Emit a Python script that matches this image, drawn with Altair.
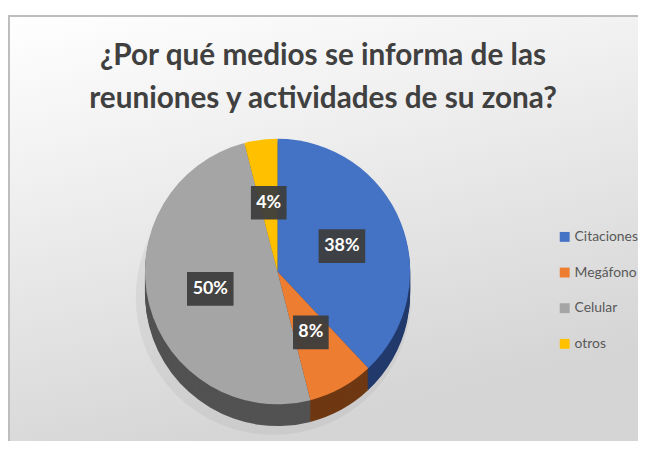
import altair as alt
import pandas as pd

# ---- data ----
categories = ["Citaciones", "Megáfono", "Celular", "otros"]
values = [38, 8, 50, 4]
labels = ["38%", "8%", "50%", "4%"]
title_lines = ["¿Por qué medios se informa de las", "reuniones y actividades de su zona?"]

# ---- styles ----
top_colors = ["#4472C4", "#ED7D31", "#A5A5A5", "#FFC000"]
side_colors = ["#22396B", "#6E3812", "#525252", "#8C6A00"]
W, H = 636, 430
CX, CY, R, DEPTH, LR = 272, 259, 134, 22, 70
TFONT = "Lato, sans-serif"

df = pd.DataFrame({"cat": categories, "value": values, "label": labels,
                   "order": list(range(len(categories)))})
base = alt.Chart(df)

layers = []
frame = alt.Chart(pd.DataFrame({"k": [0]}))

# background gradient
bg = alt.LinearGradient(gradient="linear",
                        stops=[alt.GradientStop(color="#ffffff", offset=0),
                               alt.GradientStop(color="#d5d5d5", offset=1)],
                        x1=0, y1=0, x2=0.35, y2=1)
layers.append(frame.mark_rect(color=bg).encode(
    x=alt.value(0), x2=alt.value(W), y=alt.value(0), y2=alt.value(H)))

# page frame borders (top and left)
layers.append(frame.mark_rule(color="#bdbdbd", strokeWidth=2).encode(
    x=alt.value(0), x2=alt.value(W), y=alt.value(1)))
layers.append(frame.mark_rule(color="#bdbdbd", strokeWidth=2).encode(
    x=alt.value(1), y=alt.value(0), y2=alt.value(H)))

# soft shadow
layers.append(frame.mark_arc(radius=R + 5, color="#9a9a9a", opacity=0.16).encode(
    theta=alt.value(2 * 3.14159265), x=alt.value(CX - 4), y=alt.value(CY + DEPTH + 4)))

# side of the 3D pie
for d in range(DEPTH, 0, -2):
    layers.append(base.mark_arc(radius=R).encode(
        theta=alt.Theta("value:Q", stack=True),
        order=alt.Order("order:Q"),
        color=alt.Color("cat:N", scale=alt.Scale(domain=categories, range=side_colors), legend=None),
        x=alt.value(CX), y=alt.value(CY + d)))

# top face
top = base.mark_arc(radius=R).encode(
    theta=alt.Theta("value:Q", stack=True),
    order=alt.Order("order:Q"),
    color=alt.Color("cat:N", scale=alt.Scale(domain=categories, range=top_colors),
                    sort=categories,
                    legend=alt.Legend(title=None, orient="none", legendX=555, legendY=217,
                                      symbolType="square", symbolSize=100, symbolStrokeWidth=0,
                                      labelFont=TFONT, labelFontSize=14, labelColor="#595959",
                                      rowPadding=22, labelOffset=3)),
    x=alt.value(CX), y=alt.value(CY))
layers.append(top)

# data labels with dark boxes
lab = base.transform_window(
    cum="sum(value)", sort=[alt.SortField("order")], frame=[None, 0]
).transform_joinaggregate(total="sum(value)").transform_calculate(
    mid="(datum.cum - datum.value/2)/datum.total*2*PI",
    lx=f"{CX}+{LR}*sin(datum.mid)",
    ly=f"{CY}-{LR}*cos(datum.mid)",
    bw="14+11*length(datum.label)",
    x1="datum.lx - datum.bw/2", x2="datum.lx + datum.bw/2",
    y1="datum.ly - 17", y2="datum.ly + 17",
)
layers.append(lab.mark_rect(color="#3d3d3d", opacity=0.95).encode(
    x=alt.X("x1:Q", scale=None), x2="x2:Q",
    y=alt.Y("y1:Q", scale=None), y2="y2:Q"))
layers.append(lab.mark_text(color="white", font=TFONT, fontWeight="bold", fontSize=18,
                            baseline="middle", align="center").encode(
    x=alt.X("lx:Q", scale=None), y=alt.Y("ly:Q", scale=None), text="label:N"))

# title
layers.append(frame.mark_text(font=TFONT, fontWeight="bold", fontSize=30, color="#404040",
                              align="center", baseline="alphabetic", lineHeight=44,
                              lineBreak="\n").encode(
    x=alt.value(318), y=alt.value(50), text=alt.value("\n".join(title_lines))))

chart = alt.layer(*layers).resolve_scale(color="independent").properties(
    width=W, height=H,
    autosize=alt.AutoSizeParams(type="none"),
    padding={"top": 5, "left": 0, "right": 0, "bottom": 0},
    background="white",
).configure_view(strokeOpacity=0)

chart.save("out.html", embed_options={"renderer": "svg", "actions": False})
